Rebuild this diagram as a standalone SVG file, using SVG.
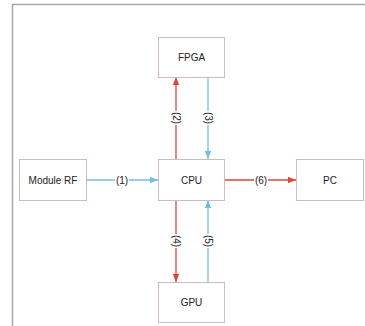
<svg xmlns="http://www.w3.org/2000/svg" width="365" height="326" viewBox="0 0 365 326">
<style>
.box{fill:#fff;stroke:#cdbcbc;stroke-width:1}
.t{font-family:"Liberation Sans",Arial,sans-serif;font-size:10px;fill:#222;text-anchor:middle;dominant-baseline:central}
.red{stroke:#e0443c;stroke-width:1.3;fill:none}
.blue{stroke:#74bde3;stroke-width:1.3;fill:none}
.lbg{fill:#fff}
</style>
<defs>
<marker id="ar" viewBox="0 0 8 8" refX="8" refY="4" markerWidth="8" markerHeight="8" markerUnits="userSpaceOnUse" orient="auto"><path d="M0,0.8 L8,4 L0,7.2 Z" fill="#e0443c"/></marker>
<marker id="ab" viewBox="0 0 8 8" refX="8" refY="4" markerWidth="8" markerHeight="8" markerUnits="userSpaceOnUse" orient="auto"><path d="M0,0.8 L8,4 L0,7.2 Z" fill="#74bde3"/></marker>
</defs>
<rect width="365" height="326" fill="#fff"/>
<path d="M12.5,326 V4.5 H365" fill="none" stroke="#a8a8a8" stroke-width="1.5"/>
<g id="connectors">
<line class="blue" x1="86" y1="180" x2="158" y2="180" marker-end="url(#ab)"/>
<line class="red" x1="224" y1="180" x2="296" y2="180" marker-end="url(#ar)"/>
<line class="red" x1="176" y1="159" x2="176" y2="77" marker-end="url(#ar)"/>
<line class="blue" x1="208" y1="77" x2="208" y2="159" marker-end="url(#ab)"/>
<line class="red" x1="176" y1="200" x2="176" y2="282" marker-end="url(#ar)"/>
<line class="blue" x1="208" y1="282" x2="208" y2="200" marker-end="url(#ab)"/>
<rect class="lbg" x="115" y="175" width="14" height="10"/>
<text class="t" x="122" y="180">(1)</text>
<rect class="lbg" x="254" y="175" width="14" height="10"/>
<text class="t" x="261" y="180">(6)</text>
<g transform="translate(176,118) rotate(90)"><rect class="lbg" x="-7" y="-5" width="14" height="10"/><text class="t" x="0" y="0">(2)</text></g>
<g transform="translate(208,118) rotate(90)"><rect class="lbg" x="-7" y="-5" width="14" height="10"/><text class="t" x="0" y="0">(3)</text></g>
<g transform="translate(176,241) rotate(90)"><rect class="lbg" x="-7" y="-5" width="14" height="10"/><text class="t" x="0" y="0">(4)</text></g>
<g transform="translate(208,241) rotate(90)"><rect class="lbg" x="-7" y="-5" width="14" height="10"/><text class="t" x="0" y="0">(5)</text></g>
</g>
<g id="fpga"><rect class="box" x="158.5" y="37.5" width="66" height="40"/><text class="t" x="191.5" y="57.5">FPGA</text></g>
<g id="cpu"><rect class="box" x="158.5" y="159.5" width="66" height="41"/><text class="t" x="191.5" y="180">CPU</text></g>
<g id="module-rf"><rect class="box" x="19.5" y="159.5" width="67" height="41"/><text class="t" x="53" y="180">Module RF</text></g>
<g id="pc"><rect class="box" x="296.5" y="159.5" width="67" height="41"/><text class="t" x="330" y="180">PC</text></g>
<g id="gpu"><rect class="box" x="158.5" y="282.5" width="66" height="40"/><text class="t" x="191.5" y="302.5">GPU</text></g>
</svg>
